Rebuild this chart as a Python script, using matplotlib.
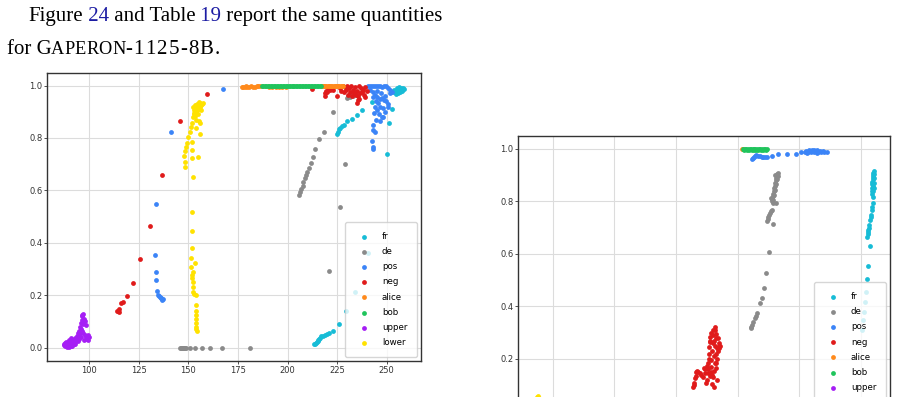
import matplotlib
matplotlib.use('Agg')
import matplotlib.pyplot as plt
from matplotlib.transforms import IdentityTransform

# ---- data: left panel -------------------------------------------------------
fr_x_left = [213.3, 213.8, 214.3, 214.8, 215.2, 215.6, 216.0, 216.5, 216.9, 217.8, 218.9, 219.8,
             220.7, 223.0, 225.8, 229.6, 234.0, 240.4,
             224.8, 225.3, 225.9, 226.5, 227.3, 228.5, 230.2, 232.3, 234.9, 237.7, 242.8, 252.7,
             251.2, 250.0,
             253.5, 254.0, 254.5, 255.0, 255.5, 256.0, 256.5, 257.0, 257.5, 258.0, 258.5, 254.8,
             255.8, 256.8, 257.8, 253.8, 255.2, 256.2, 257.2]
fr_y_left = [0.013, 0.015, 0.017, 0.021, 0.025, 0.029, 0.032, 0.038, 0.044, 0.046, 0.048, 0.052,
             0.055, 0.064, 0.090, 0.141, 0.214, 0.363,
             0.814, 0.824, 0.835, 0.840, 0.847, 0.849, 0.863, 0.871, 0.888, 0.905, 0.936, 0.911,
             0.856, 0.739,
             0.975, 0.980, 0.972, 0.985, 0.978, 0.990, 0.982, 0.988, 0.985, 0.990, 0.987, 0.968,
             0.972, 0.976, 0.980, 0.985, 0.990, 0.993, 0.992]

de_x_left = [145.7, 146.2, 146.7, 147.2, 147.7, 148.2, 148.6, 150.8, 153.5, 156.8, 161.0, 167.1, 180.9,
             205.6, 206.3, 207.0, 207.6, 208.0, 208.6, 209.1, 210.0, 210.6, 211.6, 212.7, 213.8,
             215.7, 218.2, 222.9, 220.7, 226.5, 229.0,
             229.8, 230.5, 231.2, 232.0, 232.8, 233.5, 234.3, 231.5, 233.0]
de_y_left = [0.0, 0.0, 0.0, 0.0, 0.0, 0.0, 0.0, 0.0, 0.0, 0.0, 0.0, 0.0, 0.0,
             0.583, 0.593, 0.604, 0.617, 0.632, 0.646, 0.658, 0.672, 0.684, 0.706, 0.726, 0.758,
             0.796, 0.821, 0.898, 0.293, 0.538, 0.701,
             0.953, 0.960, 0.965, 0.970, 0.972, 0.975, 0.977, 0.955, 0.962]

pos_x_left = [133.1, 133.5, 133.8, 134.1, 134.8, 135.2, 135.6, 136.0, 136.2, 136.8, 137.3,
              133.8, 141.2, 167.6,
              240.5, 241.5, 242.5, 243.5, 244.5, 245.5, 246.5, 247.5, 248.5, 249.5, 250.5, 251.5,
              252.5, 241.8, 243.0, 244.2, 245.3, 246.5, 247.5, 248.5, 249.5, 250.5, 251.7, 249.0,
              247.0, 245.0, 243.2, 244.5, 245.8, 246.8, 248.0, 249.2, 250.8, 244.0, 245.0, 243.5,
              246.0, 248.3, 246.6, 244.5, 243.2, 244.0, 242.9, 242.4, 242.9, 243.3, 247.5]
pos_y_left = [0.352, 0.289, 0.258, 0.217, 0.201, 0.198, 0.195, 0.190, 0.188, 0.183, 0.184,
              0.548, 0.824, 0.986,
              1.000, 0.998, 1.000, 0.997, 1.000, 0.999, 1.000, 0.996, 1.000, 0.998, 0.990, 0.985,
              0.975, 0.985, 0.975, 0.965, 0.958, 0.950, 0.952, 0.945, 0.940, 0.930, 0.970, 0.960,
              0.970, 0.980, 0.955, 0.940, 0.933, 0.920, 0.915, 0.900, 0.920, 0.920, 0.907, 0.895,
              0.890, 0.882, 0.863, 0.870, 0.850, 0.824, 0.831, 0.789, 0.767, 0.758, 0.880]

neg_x_left = [114.1, 114.5, 114.8, 115.1, 115.9, 117.2, 119.2, 121.9, 125.7, 130.4, 136.8, 145.7,
              159.2, 212.1, 218.9, 219.0, 219.5, 219.7, 220.5, 221.5, 223.0, 225.1,
              228.0, 229.0, 230.0, 231.0, 232.0, 233.0, 234.0, 235.0, 236.0, 237.0, 238.0, 239.0,
              240.0, 229.5, 231.5, 233.5, 234.5, 235.5, 236.5, 237.5, 238.5, 239.0, 234.8, 235.3,
              236.2, 230.5, 232.5, 228.5, 226.5, 227.0]
neg_y_left = [0.141, 0.138, 0.135, 0.146, 0.172, 0.173, 0.198, 0.248, 0.337, 0.466, 0.659, 0.863,
              0.968, 0.987, 0.960, 0.970, 0.980, 0.974, 0.990, 0.985, 0.985, 0.962,
              1.000, 0.995, 1.000, 0.990, 1.000, 0.985, 0.995, 0.980, 1.000, 0.990, 0.985, 0.995,
              0.980, 0.985, 0.975, 0.970, 0.965, 0.960, 0.970, 0.975, 0.965, 0.958, 0.933, 0.945,
              0.950, 0.965, 0.960, 0.975, 0.990, 0.980]

alice_x_left = [176.8, 177.5, 178.3, 179.0, 179.8, 180.5, 181.5, 182.5, 183.5, 184.5, 185.3, 186.1,
                190.5, 192.0, 194.0, 195.5, 197.0, 199.0,
                217.2, 217.8, 218.4, 219.0, 219.6, 220.2, 220.8, 221.4, 222.0, 222.6, 223.2,
                223.8, 224.4, 225.0, 225.6, 226.2, 226.8, 227.4, 228.1]
alice_y_left = [0.995, 0.996, 0.994, 0.997, 0.995, 0.996, 0.997, 0.995, 0.996, 0.998, 0.997, 0.998,
                0.993, 0.994, 0.993, 0.994, 0.993, 0.994,
                0.999, 0.998, 1.000, 0.998, 0.999, 1.000, 0.998, 0.999, 1.000, 0.998, 0.999,
                1.000, 0.998, 0.999, 1.000, 0.998, 0.999, 1.000, 0.999]

bob_x_left = [187.0, 187.8, 188.5, 189.3, 190.0, 190.8, 191.5, 192.3, 193.0, 193.8, 194.5, 195.3,
              196.0, 196.8, 197.5, 198.3, 199.0, 199.8, 200.5, 201.3, 202.0, 202.8, 203.5, 204.3,
              205.0, 205.8, 206.5, 207.3, 208.0, 208.8, 209.5, 210.3, 211.0, 211.8, 212.5, 213.3,
              214.0, 214.8, 215.5, 216.3, 217.0]
bob_y_left = [1.000, 0.999, 1.000, 0.998, 1.000, 0.999, 1.000, 0.999, 1.000, 0.998, 1.000, 0.999,
              1.000, 0.999, 1.000, 0.998, 1.000, 0.999, 1.000, 0.999, 1.000, 0.998, 1.000, 0.999,
              1.000, 0.999, 1.000, 0.998, 1.000, 0.999, 1.000, 0.999, 1.000, 0.998, 1.000, 0.999,
              1.000, 0.999, 1.000, 0.998, 1.000]

upper_x_left = [87.5, 88.0, 88.5, 89.0, 89.5, 90.0, 90.5, 91.0, 88.2, 89.2, 90.3, 91.5, 92.0, 92.8,
                93.6, 94.5, 95.3, 95.8, 96.1, 96.6, 97.0, 96.5, 95.6, 94.9, 93.9, 94.2, 95.0, 96.0,
                96.8, 97.8, 98.3, 97.8, 98.5, 99.0, 99.5, 99.2, 97.2, 93.0, 91.8, 90.8, 89.8,
                87.2, 87.8, 88.6, 89.4, 90.1, 90.8, 91.3, 92.3, 93.2, 94.8, 95.5, 96.3, 97.3, 96.9,
                98.8, 99.8]
upper_y_left = [0.012, 0.008, 0.015, 0.005, 0.012, 0.003, 0.010, 0.018, 0.020, 0.022, 0.025, 0.008,
                0.020, 0.036, 0.030, 0.055, 0.080, 0.095, 0.106, 0.120, 0.130, 0.125, 0.070, 0.065,
                0.045, 0.025, 0.032, 0.040, 0.055, 0.100, 0.087, 0.048, 0.040, 0.032, 0.050, 0.028,
                0.030, 0.015, 0.030, 0.035, 0.030,
                0.010, 0.018, 0.004, 0.017, 0.014, 0.006, 0.014, 0.012, 0.024, 0.045, 0.055, 0.065,
                0.110, 0.090, 0.045, 0.040]

lower_x_left = [154.1, 153.8, 153.7, 153.6, 153.7, 153.6, 153.6, 153.7, 153.6, 152.8, 152.5, 152.3,
                152.1, 152.0, 152.0, 152.1, 153.5, 151.3, 151.5, 151.6, 151.8, 152.0, 152.5, 148.1,
                148.5, 147.8, 148.3, 148.8, 149.5, 150.0, 150.7, 151.2, 151.7, 152.0, 151.8, 152.0,
                154.9, 155.7, 154.0, 156.0, 155.2,
                152.5, 153.0, 153.5, 154.0, 154.5, 155.0, 155.5, 156.0, 156.5, 157.0, 157.5, 153.0,
                153.5, 154.0, 154.5, 155.0, 155.5, 156.0, 152.8, 153.8, 152.5, 153.2, 154.2, 155.2,
                154.8, 156.2]
lower_y_left = [0.064, 0.072, 0.080, 0.095, 0.110, 0.125, 0.140, 0.163, 0.200, 0.203, 0.214, 0.230,
                0.250, 0.265, 0.277, 0.290, 0.322, 0.309, 0.343, 0.382, 0.445, 0.517, 0.651, 0.690,
                0.710, 0.730, 0.752, 0.765, 0.782, 0.805, 0.824, 0.843, 0.856, 0.786, 0.754, 0.722,
                0.726, 0.815, 0.837, 0.856, 0.866,
                0.880, 0.890, 0.885, 0.900, 0.905, 0.910, 0.915, 0.920, 0.925, 0.930, 0.932, 0.905,
                0.910, 0.915, 0.920, 0.925, 0.930, 0.935, 0.895, 0.870, 0.920, 0.925, 0.930, 0.937,
                0.890, 0.905]

# ---- data: right panel ------------------------------------------------------
fr_x_right = [225.2, 225.9, 226.1, 226.5, 227.0, 227.5, 227.9, 228.6, 227.5, 227.6, 227.7, 227.9,
              228.1, 228.3, 228.6, 228.8, 229.0, 229.3, 229.5, 229.7, 229.9,
              229.6, 229.9, 229.5, 229.8, 230.1, 229.6, 229.9, 230.2, 229.7, 230.0, 230.3, 229.8,
              230.1, 229.6, 229.4, 230.2]
fr_y_right = [0.310, 0.349, 0.380, 0.418, 0.454, 0.505, 0.554, 0.630, 0.665, 0.675, 0.685, 0.691,
              0.700, 0.710, 0.729, 0.740, 0.750, 0.767, 0.780, 0.795, 0.818,
              0.830, 0.840, 0.850, 0.860, 0.870, 0.875, 0.885, 0.890, 0.895, 0.900, 0.905, 0.910,
              0.915, 0.865, 0.840, 0.850]

de_x_right = [180.2, 180.5, 180.8, 181.3, 182.1, 182.5, 183.0, 184.0, 184.8, 185.5, 186.4, 187.6,
              189.1, 187.0, 187.2, 187.4, 187.6, 188.1, 188.4, 188.7, 189.4, 190.5,
              188.8, 189.0, 189.2, 189.4, 189.6, 189.8, 190.0, 190.2, 190.4, 190.6, 190.8, 191.0,
              191.2, 189.3, 189.7, 190.1, 190.5, 190.9, 191.2, 188.6, 190.3]
de_y_right = [0.317, 0.322, 0.330, 0.339, 0.355, 0.362, 0.374, 0.412, 0.431, 0.471, 0.526, 0.606,
              0.714, 0.727, 0.733, 0.740, 0.748, 0.755, 0.762, 0.768, 0.793, 0.793,
              0.800, 0.810, 0.820, 0.830, 0.840, 0.850, 0.860, 0.870, 0.880, 0.890, 0.900, 0.905,
              0.910, 0.805, 0.825, 0.845, 0.865, 0.885, 0.897, 0.815, 0.900]

pos_x_right = [180.8, 181.2, 181.6, 182.1, 182.6, 183.3, 184.0, 184.7, 185.4, 186.0, 186.7, 188.7,
               191.4, 194.8, 198.8, 200.8,
               202.2, 202.8, 203.4, 204.0, 204.6, 205.2, 205.8, 206.4, 207.0, 207.6, 208.2, 208.8,
               209.4, 210.0, 211.0, 203.0, 205.0, 206.0, 207.3]
pos_y_right = [0.962, 0.965, 0.968, 0.972, 0.977, 0.975, 0.973, 0.970, 0.968, 0.970, 0.970, 0.975,
               0.980, 0.980, 0.980, 0.988,
               0.990, 0.993, 0.988, 0.995, 0.990, 0.993, 0.987, 0.992, 0.995, 0.990, 0.993, 0.990,
               0.992, 0.988, 0.990, 0.985, 0.998, 0.997, 0.985]

neg_x_right = [157.0, 157.2, 157.4, 157.6, 157.9, 158.3, 158.5, 159.1, 159.6, 160.3, 160.8, 161.6,
               161.2, 161.9, 162.3, 162.7, 163.0, 163.2, 163.4, 163.4, 163.6, 163.8, 164.0, 164.3,
               164.5, 164.6, 164.8, 165.0, 165.0, 165.2, 165.3, 165.5, 165.6, 165.7, 165.8, 166.0,
               166.2, 166.3, 166.3, 166.5, 166.6, 166.8, 167.0, 167.2, 167.4, 167.6, 167.8, 164.1,
               164.7, 163.6, 162.9, 166.0, 165.4, 164.9, 164.2, 163.9, 165.9, 166.9, 162.5, 163.1]
neg_y_right = [0.094, 0.100, 0.110, 0.126, 0.135, 0.152, 0.155, 0.150, 0.148, 0.140, 0.130, 0.145,
               0.165, 0.160, 0.107, 0.120, 0.183, 0.200, 0.247, 0.220, 0.285, 0.270, 0.170, 0.196,
               0.230, 0.140, 0.260, 0.310, 0.133, 0.210, 0.094, 0.155, 0.323, 0.250, 0.185, 0.280,
               0.220, 0.297, 0.183, 0.240, 0.120, 0.200, 0.247, 0.230, 0.241, 0.260, 0.250, 0.150,
               0.105, 0.135, 0.145, 0.165, 0.270, 0.290, 0.300, 0.265, 0.310, 0.280, 0.175, 0.160]

alice_x_right = [176.8, 177.1]
alice_y_right = [1.000, 0.999]

bob_x_right = [177.0, 177.4, 177.8, 178.2, 178.6, 179.0, 179.4, 179.8, 180.2, 180.6, 181.0, 181.4,
               181.8, 182.2, 182.6, 183.0, 183.4, 183.8, 184.2, 184.6, 185.0, 185.4, 185.8, 186.2,
               186.6, 187.0]
bob_y_right = [1.000, 0.998, 1.000, 0.999, 0.997, 1.000, 0.998, 1.000, 0.999, 0.997, 1.000, 0.998,
               1.000, 0.999, 0.997, 1.000, 0.998, 1.000, 0.999, 0.997, 1.000, 0.998, 1.000, 0.999,
               0.998, 1.000]

upper_x_right = [89.0, 90.0, 91.0, 92.0]
upper_y_right = [0.000, 0.004, 0.002, 0.006]

lower_x_right = [92.8, 93.2, 93.6, 94.0, 94.4, 94.9, 93.4, 94.2]
lower_y_right = [0.030, 0.045, 0.055, 0.058, 0.050, 0.040, 0.020, 0.012]

names = ['fr', 'de', 'pos', 'neg', 'alice', 'bob', 'upper', 'lower']
colors = ['#17bcd6', '#8a8a8a', '#3b84f7', '#e01b1b', '#ff8a1c', '#20c45c', '#a51ef5', '#ffe200']

left_series = [(fr_x_left, fr_y_left), (de_x_left, de_y_left), (pos_x_left, pos_y_left),
               (neg_x_left, neg_y_left), (alice_x_left, alice_y_left), (bob_x_left, bob_y_left),
               (upper_x_left, upper_y_left), (lower_x_left, lower_y_left)]
right_series = [(fr_x_right, fr_y_right), (de_x_right, de_y_right), (pos_x_right, pos_y_right),
                (neg_x_right, neg_y_right), (alice_x_right, alice_y_right),
                (bob_x_right, bob_y_right), (upper_x_right, upper_y_right),
                (lower_x_right, lower_y_right)]

# ---- figure ----------------------------------------------------------------
W, H = 898, 397
fig = plt.figure(figsize=(W / 100, H / 100), dpi=100)
fig.patch.set_facecolor('white')


def style(ax):
    ax.set_axisbelow(True)
    ax.grid(True, color='#dcdcdc', lw=0.8)
    for sp in ax.spines.values():
        sp.set_color('#333333')
        sp.set_linewidth(1.0)
    ax.tick_params(labelsize=6.0, length=2.2, width=0.6, pad=1.2, colors='#333333')


def draw(ax, series, anchor_y=0.0):
    for (xs, ys), name, c in zip(series, names, colors):
        ax.scatter(xs, ys, s=12, color=c, label=name, linewidths=0)
    ax.legend(loc='lower right', bbox_to_anchor=(1.0, anchor_y), fontsize=6.2, borderpad=1.1,
              handlelength=2.3, handletextpad=0.9, labelspacing=0.72, borderaxespad=0.5)


ax1 = fig.add_axes([47 / W, (H - 361) / H, 374 / W, 288 / H])
style(ax1)
draw(ax1, left_series)
ax1.set_xlim(78.7, 267.3)
ax1.set_ylim(-0.051, 1.048)
ax1.set_xticks([100, 125, 150, 175, 200, 225, 250])
ax1.set_yticks([0.0, 0.2, 0.4, 0.6, 0.8, 1.0])

# the right panel runs past the bottom of the page crop; its x labels are not shown
ax2 = fig.add_axes([518.3 / W, (H - 424.6) / H, 371.7 / W, 288.6 / H])
style(ax2)
draw(ax2, right_series, anchor_y=0.012)
ax2.set_xlim(86.1, 236.7)
ax2.set_ylim(-0.05, 1.0495)
ax2.set_xticks([100, 125, 150, 175, 200, 225])
ax2.set_yticks([0.2, 0.4, 0.6, 0.8, 1.0])
ax2.tick_params(axis='x', labelbottom=False)

# ---- running text above the plots ------------------------------------------
rend = fig.canvas.get_renderer()
serif = 'Liberation Serif'
fs = 15.0
link = '#1c1ca3'


def put_run(x, y, parts, track=0.0):
    # draws pieces one after another; track adds space between characters
    for s, size, c in parts:
        chunks = list(s) if track else [s]
        for ch in chunks:
            t = fig.text(x, y, ch, transform=IdentityTransform(), fontsize=size, color=c,
                         family=serif, va='baseline', ha='left')
            x = t.get_window_extent(rend).x1 + track
    return x


put_run(28, H - 20.7, [('Figure', fs, 'black'), (' 24', fs, link), (' and Table', fs, 'black'),
                       (' 19', fs, link), (' report the same quantities', fs, 'black')])
put_run(7, H - 54.5, [('for G', fs, 'black')])
put_run(50.7, H - 54.5, [('APERON', fs * 0.88, 'black')], track=0.2)
put_run(125, H - 54.5, [('-1125-8B.', fs, 'black')], track=1.3)

fig.savefig('out.png', dpi=100)
